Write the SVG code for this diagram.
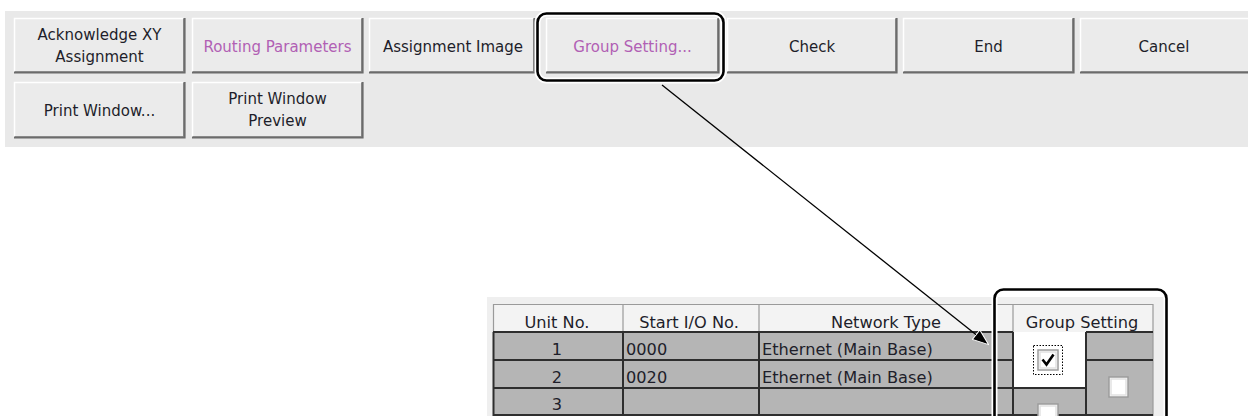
<svg xmlns="http://www.w3.org/2000/svg" width="1248" height="416" viewBox="0 0 1248 416">
<defs>
<style>
.face{fill:#EBEBEB}
.hi{fill:none;stroke:#FFFFFF;stroke-width:1.5}
.sh{fill:none;stroke:#6B6B6B;stroke-width:2.2}
.sh2{fill:none;stroke:#A9A9A9;stroke-width:1}
.bt{font-family:"DejaVu Sans",sans-serif;font-size:15px;fill:#1E1E2A;text-anchor:middle}
.pu{fill:#B160B4}
.tt{font-family:"DejaVu Sans",sans-serif;font-size:16.2px;fill:#1E1E2A}
.c{text-anchor:middle}
.hl{fill:none;stroke:#000;stroke-width:2.6}
.halo{fill:none;stroke:#FFF;stroke-width:6}
.dk{stroke:#2E2E2E;stroke-width:2;fill:none}
.lg{stroke:#9A9A9A;stroke-width:1.2;fill:none}
.cbo{fill:#FFFFFF;stroke:#9C9C9C;stroke-width:1.5}
.cbi{fill:none;stroke:#E2E2E2;stroke-width:1.5}
</style>
<marker id="ah" viewBox="0 0 17 13" refX="13" refY="6.5" markerWidth="17" markerHeight="13" orient="auto" markerUnits="userSpaceOnUse">
<path d="M0.5,0.5 L16.5,6.5 L0.5,12.5 Z" fill="#000" stroke="#FFF" stroke-width="1"/>
</marker>
</defs>
<rect x="0" y="0" width="1248" height="416" fill="#FFFFFF"/>
<rect id="toolbar" x="5" y="11" width="1243" height="136" fill="#E9E9E9"/>

<g id="btn-ack">
<rect class="face" x="14" y="18" width="171" height="55"/>
<path class="hi" d="M14.5,72 V18.5 H184"/>
<path class="sh2" d="M15,71.5 H183.5 V19"/>
<path class="sh" d="M14,72.5 H184.5 V18"/>
<text class="bt" x="99.5" y="40">Acknowledge XY</text>
<text class="bt" x="99.5" y="62">Assignment</text>
</g>
<g id="btn-routing">
<rect class="face" x="192" y="18" width="171" height="55"/>
<path class="hi" d="M192.5,72 V18.5 H362"/>
<path class="sh2" d="M193,71.5 H361.5 V19"/>
<path class="sh" d="M192,72.5 H362.5 V18"/>
<text class="bt pu" x="277.5" y="51.5">Routing Parameters</text>
</g>
<g id="btn-image">
<rect class="face" x="369" y="18" width="166" height="55"/>
<path class="hi" d="M369.5,72 V18.5 H534"/>
<path class="sh2" d="M370,71.5 H533.5 V19"/>
<path class="sh" d="M369,72.5 H534.5 V18"/>
<text class="bt" x="453" y="51.5">Assignment Image</text>
</g>
<g id="btn-group">
<rect class="face" x="546" y="18" width="173" height="55"/>
<path class="hi" d="M546.5,72 V18.5 H718"/>
<path class="sh2" d="M547,71.5 H717.5 V19"/>
<path class="sh" d="M546,72.5 H718.5 V18"/>
<text class="bt pu" x="632.5" y="51.5">Group Setting...</text>
<rect class="halo" x="537.5" y="13.5" width="186" height="67" rx="9"/>
<rect class="hl" x="537.5" y="13.5" width="186" height="67" rx="9"/>
</g>
<g id="btn-check">
<rect class="face" x="727" y="18" width="170" height="55"/>
<path class="hi" d="M727.5,72 V18.5 H896"/>
<path class="sh2" d="M728,71.5 H895.5 V19"/>
<path class="sh" d="M727,72.5 H896.5 V18"/>
<text class="bt" x="812" y="51.5">Check</text>
</g>
<g id="btn-end">
<rect class="face" x="903" y="18" width="171" height="55"/>
<path class="hi" d="M903.5,72 V18.5 H1073"/>
<path class="sh2" d="M904,71.5 H1072.5 V19"/>
<path class="sh" d="M903,72.5 H1073.5 V18"/>
<text class="bt" x="988.5" y="51.5">End</text>
</g>
<g id="btn-cancel">
<rect class="face" x="1080" y="18" width="172" height="55"/>
<path class="hi" d="M1080.5,72 V18.5 H1252"/>
<path class="sh2" d="M1081,71.5 H1252"/>
<path class="sh" d="M1080,72.5 H1252"/>
<text class="bt" x="1164" y="51.5">Cancel</text>
</g>
<g id="btn-print">
<rect class="face" x="14" y="82" width="171" height="56"/>
<path class="hi" d="M14.5,137 V82.5 H184"/>
<path class="sh2" d="M15,136.5 H183.5 V83"/>
<path class="sh" d="M14,137.5 H184.5 V82"/>
<text class="bt" x="99.5" y="115.5">Print Window...</text>
</g>
<g id="btn-preview">
<rect class="face" x="192" y="82" width="171" height="56"/>
<path class="hi" d="M192.5,137 V82.5 H362"/>
<path class="sh2" d="M193,136.5 H361.5 V83"/>
<path class="sh" d="M192,137.5 H362.5 V82"/>
<text class="bt" x="277.5" y="103.5">Print Window</text>
<text class="bt" x="277.5" y="126">Preview</text>
</g>

<g id="table">
<rect x="487" y="297" width="680" height="119" fill="#EFEFEF"/>
<rect x="493" y="304" width="660" height="28" fill="#F3F3F3"/>
<rect x="493" y="332" width="660" height="84" fill="#B5B5B5"/>
<rect x="1013" y="332" width="73" height="55" fill="#FFFFFF"/>
<path class="lg" d="M493,304.5 H1153 M493.5,304 V332 M623,304 V332 M759,304 V332 M1013,304 V332 M1153,304 V416"/>
<path class="dk" d="M493,332 H1013 M1086,332 H1153 M493,360 H1013 M1086,360 H1153 M493,388 H1086 M493,415 H1153"/>
<path class="dk" d="M493.5,332 V416 M623,332 V416 M759,332 V416 M1013,332 V416 M1086,332 V416"/>
<text class="tt c" x="557" y="328">Unit No.</text>
<text class="tt c" x="689" y="328">Start I/O No.</text>
<text class="tt c" x="886" y="328">Network Type</text>
<text class="tt c" x="1082" y="328">Group Setting</text>
<text class="tt c" x="557" y="355">1</text>
<text class="tt c" x="557" y="382.5">2</text>
<text class="tt c" x="557" y="409.5">3</text>
<text class="tt" x="626" y="355">0000</text>
<text class="tt" x="626" y="382.5">0020</text>
<text class="tt" x="762" y="355">Ethernet (Main Base)</text>
<text class="tt" x="762" y="382.5">Ethernet (Main Base)</text>
</g>
<g id="checkbox-checked">
<rect x="1033.5" y="345.5" width="29" height="29" fill="none" stroke="#000" stroke-width="1" stroke-dasharray="1.5,1.5"/>
<rect class="cbo" x="1038" y="350" width="20" height="20" fill="#F4F4F4"/>
<rect class="cbi" x="1040" y="352" width="16" height="16"/>
<path d="M1042.5,359.5 L1046.5,364.5 L1053.5,354.5" fill="none" stroke="#000" stroke-width="2.6"/>
</g>
<g id="checkbox-right">
<rect class="cbo" x="1109" y="377" width="19" height="20"/>
<rect class="cbi" x="1111" y="379" width="15" height="16"/>
</g>
<g id="checkbox-bottom">
<rect class="cbo" x="1038" y="404" width="20" height="20"/>
<rect class="cbi" x="1040" y="406" width="16" height="16"/>
</g>
<g id="highlight-group-column">
<rect class="halo" x="994.5" y="289.5" width="172" height="160" rx="9"/>
<rect class="hl" x="994.5" y="289.5" width="172" height="160" rx="9"/>
</g>
<g id="connectors">
<line x1="662" y1="85" x2="985.9" y2="342.5" stroke="#000" stroke-width="1.3" marker-end="url(#ah)"/>
</g>
</svg>
